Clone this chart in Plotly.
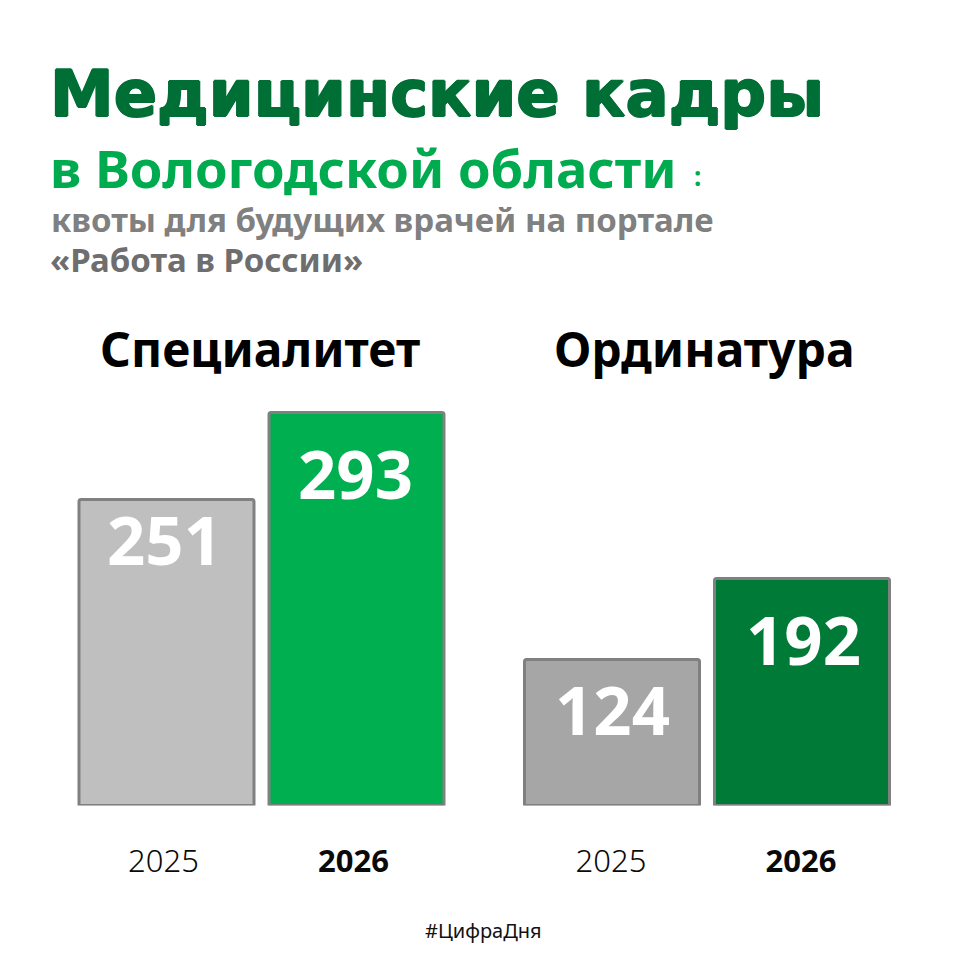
import plotly.graph_objects as go

groups = ["Специалитет", "Ординатура"]
years = ["2025", "2026"]
year_labels = ["2025", "<b>2026</b>"]
spec_values = [251, 293]
ord_values = [124, 192]
# Bar heights as drawn in the picture (the drawing is not strictly proportional to the numbers)
spec_heights = [306, 393]
ord_heights = [146, 227]
spec_colors = ["#BFBFBF", "#00B050"]
ord_colors = ["#A6A6A6", "#007A37"]

W = H = 960
def px(x): return x / W
def py(y): return 1 - y / H

fig = go.Figure()
BORDER = dict(color="#808080", width=3)
fig.add_bar(x=years, y=spec_heights, marker=dict(color=spec_colors, line=BORDER, cornerradius=2),
            xaxis="x", yaxis="y", hoverinfo="skip", cliponaxis=False)
fig.add_bar(x=years, y=ord_heights, marker=dict(color=ord_colors, line=BORDER, cornerradius=2),
            xaxis="x2", yaxis="y2", hoverinfo="skip", cliponaxis=False)

ax = dict(type="category", range=[-0.5, 1.5], tickmode="array",
          tickvals=years, ticktext=year_labels, showgrid=False, zeroline=False, showline=False,
          ticks="outside", ticklen=28, tickcolor="rgba(0,0,0,0)", tickangle=0, automargin=False,
          tickfont=dict(family="Noto Sans", size=31, color="#0A0A0A", weight=300),
          fixedrange=True)
ay = dict(range=[0, 400], visible=False, fixedrange=True)

anns = []
def text(t, x, y, size, color, family="Noto Sans", bold=False, anchor="left", shadow=None):
    font = dict(family=family, size=size, color=color)
    if shadow:
        font["shadow"] = shadow
    anns.append(dict(text=f"<b>{t}</b>" if bold else t, x=px(x), y=py(y), xref="paper", yref="paper",
                     xanchor=anchor, yanchor="middle", showarrow=False, font=font))

TITLE = "#006F36"
text("Медицинские кадры", 48, 94, 64, TITLE, "DejaVu Sans", True,
     shadow=f"1px 0 0 {TITLE}, -1px 0 0 {TITLE}, 0 1px 0 {TITLE}, 0 -1px 0 {TITLE}")
text("в Вологодской области", 48, 167, 52.5, "#00AB50", "Noto Sans", True)
text(":", 692, 176, 26, "#00AB50", "Noto Sans", True)
text("квоты для будущих врачей на портале", 49, 220, 33, "#808080", "Noto Sans", True)
text("«Работа в России»", 48, 260, 33, "#6E6E6E", "Noto Sans", True)
text(groups[0], 260, 348, 48, "#000000", "Noto Sans", True, "center")
text(groups[1], 704, 348, 48, "#000000", "Noto Sans", True, "center")
text("#ЦифраДня", 483, 930, 20, "#111111", "Noto Sans", False, "center")

def value_labels(xaxis, yaxis, values, heights, offsets, shifts):
    for i, (v, h, off, sh) in enumerate(zip(values, heights, offsets, shifts)):
        anns.append(dict(text=f"<b>{v}</b>", x=i, y=h, xref=xaxis, yref=yaxis, xanchor="center",
                         yanchor="middle", showarrow=False, yshift=-off, xshift=sh,
                         font=dict(family="Noto Sans", size=67, color="#FFFFFF")))

value_labels("x", "y", spec_values, spec_heights, [39, 60], [-2, -1])
value_labels("x2", "y2", ord_values, ord_heights, [49, 60], [0, 1])

fig.update_layout(
    width=W, height=H, margin=dict(l=0, r=0, t=0, b=0, pad=0, autoexpand=False), autosize=False,
    paper_bgcolor="#FFFFFF", plot_bgcolor="#FFFFFF", showlegend=False, bargap=15 / 190,
    xaxis=dict(ax, domain=[px(71.5), px(451.5)], anchor="y", ticklabelshift=-3),
    xaxis2=dict(ax, domain=[px(517), px(897)], anchor="y2", ticklabelshift=-1),
    yaxis=dict(ay, domain=[py(805.5), py(405.5)], anchor="x"),
    yaxis2=dict(ay, domain=[py(805.5), py(405.5)], anchor="x2"),
    annotations=anns,
)
fig.write_html("out.html", config=dict(displayModeBar=False),
               post_script="document.body.style.margin='0';")
